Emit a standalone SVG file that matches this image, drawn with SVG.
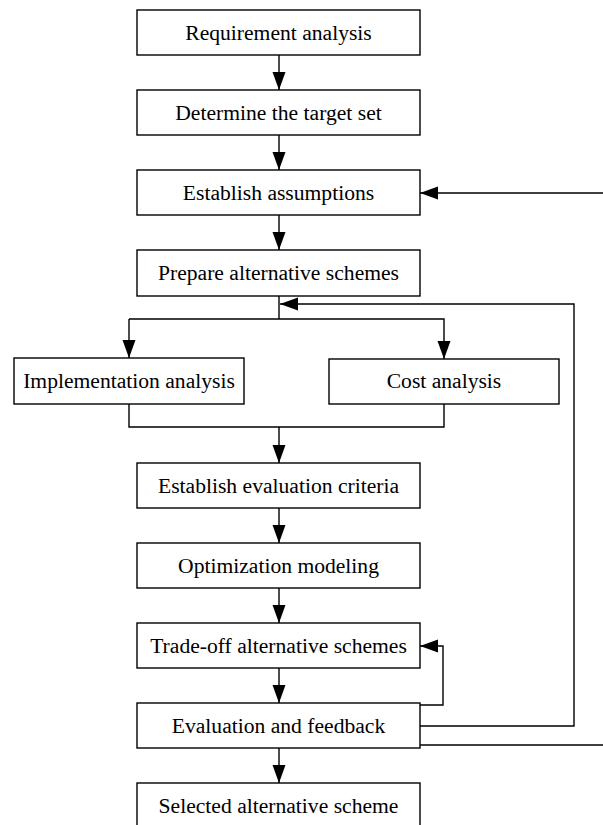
<svg xmlns="http://www.w3.org/2000/svg" width="603" height="825" viewBox="0 0 603 825">
<defs>
<marker id="ah" markerUnits="userSpaceOnUse" markerWidth="19" markerHeight="14" refX="18" refY="6.5" orient="auto">
<path d="M0,0 L18,6.5 L0,13 z" fill="#000"/>
</marker>
<style>
.box{fill:#fff;stroke:#000;stroke-width:1.4}
.lbl{font-family:"Liberation Serif","Times New Roman",serif;font-size:21.6px;fill:#000;text-anchor:middle}
.c{fill:none;stroke:#000;stroke-width:1.4}
</style>
</defs>
<rect width="603" height="825" fill="#fff"/>
<g id="connectors">
<line class="c" x1="279" y1="55" x2="279" y2="90" marker-end="url(#ah)"/>
<line class="c" x1="279" y1="135" x2="279" y2="170" marker-end="url(#ah)"/>
<line class="c" x1="279" y1="215" x2="279" y2="250" marker-end="url(#ah)"/>
<line class="c" x1="279" y1="296" x2="279" y2="319"/>
<polyline class="c" points="129,319 444,319 444,359" marker-end="url(#ah)"/>
<line class="c" x1="129" y1="319" x2="129" y2="358" marker-end="url(#ah)"/>
<polyline class="c" points="129,404 129,427 444,427 444,404"/>
<line class="c" x1="279" y1="427" x2="279" y2="463" marker-end="url(#ah)"/>
<line class="c" x1="279" y1="508" x2="279" y2="543" marker-end="url(#ah)"/>
<line class="c" x1="279" y1="588" x2="279" y2="623" marker-end="url(#ah)"/>
<line class="c" x1="279" y1="668" x2="279" y2="703" marker-end="url(#ah)"/>
<line class="c" x1="279" y1="748" x2="279" y2="783" marker-end="url(#ah)"/>
<polyline class="c" points="420,705 443,705 443,646 420,646" marker-end="url(#ah)"/>
<polyline class="c" points="420,726 574,726 574,304 280,304" marker-end="url(#ah)"/>
<line class="c" x1="420" y1="745" x2="603" y2="745"/>
<line class="c" x1="603" y1="193" x2="420" y2="193" marker-end="url(#ah)"/>
</g>
<g id="n1"><rect class="box" x="137" y="10" width="283" height="45"/><text class="lbl" x="278.5" y="40">Requirement analysis</text></g>
<g id="n2"><rect class="box" x="137" y="90" width="283" height="45"/><text class="lbl" x="278.5" y="120">Determine the target set</text></g>
<g id="n3"><rect class="box" x="137" y="170" width="283" height="45"/><text class="lbl" x="278.5" y="200">Establish assumptions</text></g>
<g id="n4"><rect class="box" x="137" y="250" width="283" height="46"/><text class="lbl" x="278.5" y="280">Prepare alternative schemes</text></g>
<g id="n5"><rect class="box" x="14" y="358" width="230" height="46"/><text class="lbl" x="129" y="388">Implementation analysis</text></g>
<g id="n6"><rect class="box" x="329" y="359" width="230" height="45"/><text class="lbl" x="444" y="388">Cost analysis</text></g>
<g id="n7"><rect class="box" x="137" y="463" width="283" height="45"/><text class="lbl" x="278.5" y="493">Establish evaluation criteria</text></g>
<g id="n8"><rect class="box" x="137" y="543" width="283" height="45"/><text class="lbl" x="278.5" y="573">Optimization modeling</text></g>
<g id="n9"><rect class="box" x="137" y="623" width="283" height="45"/><text class="lbl" x="278.5" y="653">Trade-off alternative schemes</text></g>
<g id="n10"><rect class="box" x="137" y="703" width="283" height="45"/><text class="lbl" x="278.5" y="733">Evaluation and feedback</text></g>
<g id="n11"><rect class="box" x="137" y="783" width="283" height="46"/><text class="lbl" x="278.5" y="813">Selected alternative scheme</text></g>
</svg>
